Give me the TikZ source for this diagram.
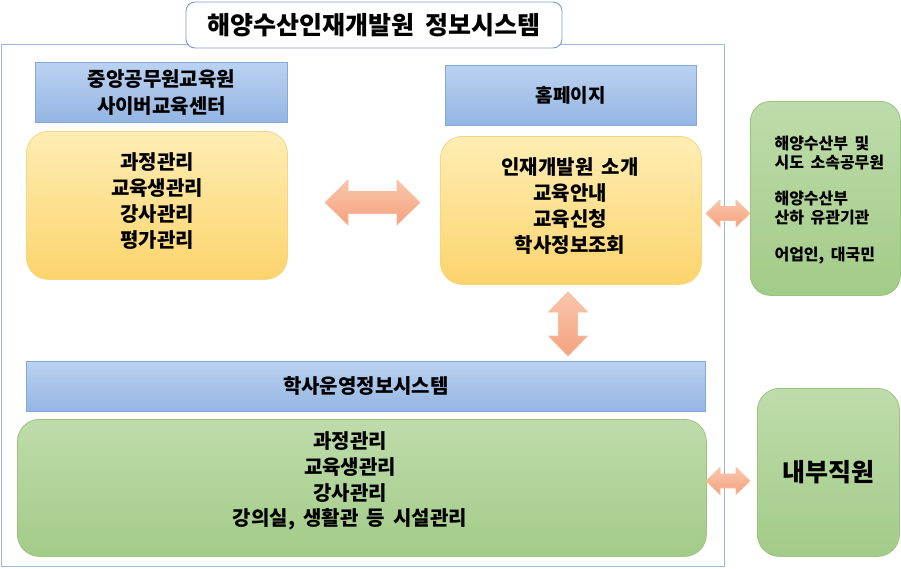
\documentclass[tikz,border=0pt]{standalone}
\usepackage{fontspec}
\setmainfont{Noto Sans CJK KR}[WordSpace=1.8]
\usetikzlibrary{calc}
\definecolor{framec}{HTML}{9DB7D6}
\definecolor{titleedge}{HTML}{7F9CC6}
\definecolor{bluetop}{HTML}{BBD2F1}
\definecolor{bluebot}{HTML}{94B5E3}
\definecolor{blueedge}{HTML}{86A8D8}
\definecolor{ytop}{HTML}{FEEDB4}
\definecolor{ybot}{HTML}{FCD46C}
\definecolor{yedge}{HTML}{F7D680}
\definecolor{gtop}{HTML}{BEDCAB}
\definecolor{gbot}{HTML}{A3CB88}
\definecolor{gedge}{HTML}{9AC47F}
\definecolor{arrtop}{HTML}{FAC6AC}
\definecolor{arrbot}{HTML}{F4A27E}
\definecolor{arredge}{HTML}{F6BBA1}
\newcommand{\hdarrow}[5]{% left, right, half head, half shaft, head length
  \draw[blockarrow] (#1) -- ($(#1)+(#5,-#3)$) -- ($(#1)+(#5,-#4)$) -- ($(#2)+(-#5,-#4)$)
   -- ($(#2)+(-#5,-#3)$) -- (#2) -- ($(#2)+(-#5,#3)$) -- ($(#2)+(-#5,#4)$)
   -- ($(#1)+(#5,#4)$) -- ($(#1)+(#5,#3)$) -- cycle;}
\newcommand{\vdarrow}[5]{% top, bottom, half head, half shaft, head length
  \draw[blockarrow] (#1) -- ($(#1)+(#3,#5)$) -- ($(#1)+(#4,#5)$) -- ($(#2)+(#4,-#5)$)
   -- ($(#2)+(#3,-#5)$) -- (#2) -- ($(#2)+(-#3,-#5)$) -- ($(#2)+(-#4,-#5)$)
   -- ($(#1)+(-#4,#5)$) -- ($(#1)+(-#3,#5)$) -- cycle;}
\begin{document}
\begin{tikzpicture}[x=1pt,y=-1pt,
  box/.style={anchor=north west, inner sep=0pt, line width=0.8pt},
  framebox/.style={box, draw=framec, line width=0.9pt},
  titlebox/.style={anchor=center, draw=titleedge, fill=white, rounded corners=9pt, line width=0.9pt,
     minimum width=376pt, minimum height=46pt, font=\bfseries\fontsize{25}{28}\selectfont},
  bluebox/.style={box, draw=blueedge, top color=bluetop, bottom color=bluebot, align=center,
     font=\bfseries\fontsize{20}{27}\selectfont},
  yellowbox/.style={box, draw=yedge, top color=ytop, bottom color=ybot, rounded corners=22pt},
  greenbox/.style={box, draw=gedge, top color=gtop, bottom color=gbot, rounded corners=22pt},
  bodytext/.style={align=center, font=\bfseries\fontsize{20}{25.8}\selectfont},
  blockarrow/.style={draw=arredge, top color=arrtop, bottom color=arrbot, line width=0.6pt},
]
\useasboundingbox (0,0) rectangle (901,568);
% outer frame
\node[framebox, minimum width=723pt, minimum height=522pt] (frame) at (1,44) {};
\node[titlebox] (title) at (374,25) {해양수산인재개발원 정보시스템};
% blue headers
\node[bluebox, minimum width=252pt, minimum height=60pt] (cyber) at (35,62) {중앙공무원교육원\\사이버교육센터};
\node[bluebox, minimum width=251pt, minimum height=60pt, font=\bfseries\fontsize{19}{27}\selectfont] (home) at (445,65) {홈페이지};
% yellow boxes
\node[yellowbox, minimum width=261pt, minimum height=148pt] (y1) at (26,131) {};
\node[bodytext] (y1t) at (157,201) {과정관리\\교육생관리\\강사관리\\평가관리};
\node[yellowbox, minimum width=261pt, minimum height=148pt] (y2) at (440,136) {};
\node[bodytext] (y2t) at (570,206) {인재개발원 소개\\교육안내\\교육신청\\학사정보조회};
% right green (users)
\node[greenbox, rounded corners=20pt, minimum width=150pt, minimum height=194pt] (users) at (750,101) {};
\node[anchor=west, align=left, font=\bfseries\fontsize{16}{18.4}\selectfont] (userst) at (771,200)
  {해양수산부 및\\시도 소속공무원\\\mbox{}\\해양수산부\\산하 유관기관\\\mbox{}\\어업인, 대국민};
% bottom system
\node[bluebox, minimum width=679pt, minimum height=50pt] (haksa) at (26,361) {학사운영정보시스템};
\node[greenbox, minimum width=689pt, minimum height=137pt] (g1) at (17,419) {};
\node[bodytext] (g1t) at (350,481) {과정관리\\교육생관리\\강사관리\\강의실, 생활관 등 시설관리};
\node[greenbox, minimum width=142pt, minimum height=168pt] (staff) at (757,388) {};
\node[font=\bfseries\fontsize{25}{28}\selectfont] (stafft) at (828,472) {내부직원};
% block arrows
\coordinate (a1l) at (325,202.5); \coordinate (a1r) at (420,202.5);
\hdarrow{a1l}{a1r}{22.5}{11}{23}
\coordinate (a2l) at (706,213.5); \coordinate (a2r) at (750,213.5);
\hdarrow{a2l}{a2r}{13.5}{7}{14}
\coordinate (a3t) at (568,292); \coordinate (a3b) at (568,356);
\vdarrow{a3t}{a3b}{19.5}{9.5}{20}
\coordinate (a4l) at (706,481); \coordinate (a4r) at (750,481);
\hdarrow{a4l}{a4r}{13.5}{7}{14}
\end{tikzpicture}
\end{document}
